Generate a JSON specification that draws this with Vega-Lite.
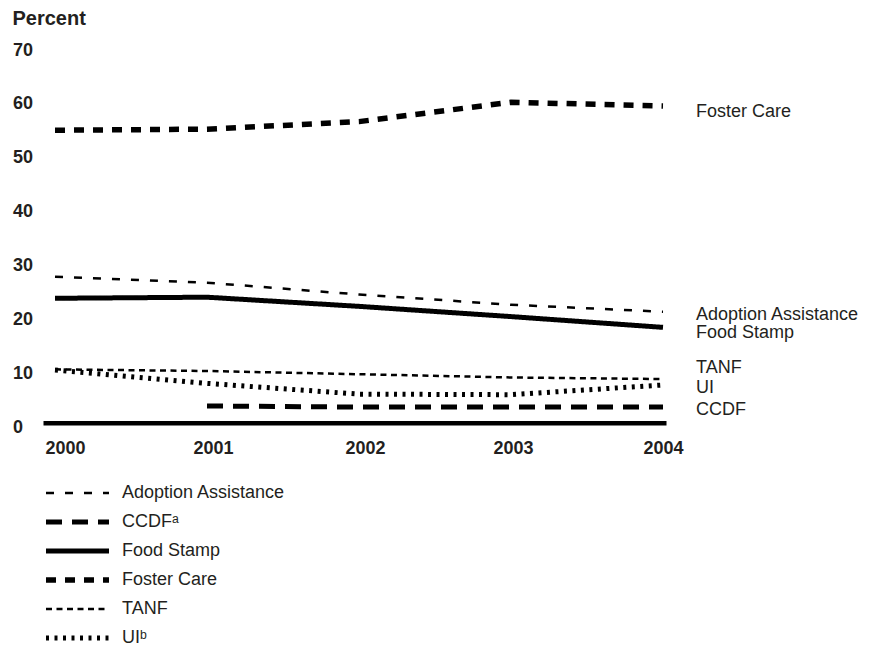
{
  "$schema": "https://vega.github.io/schema/vega-lite/v6.json",
  "width": 623,
  "height": 377,
  "autosize": {"type": "none"},
  "padding": {"left": 43, "top": 50, "right": 205, "bottom": 223},
  "background": "white",
  "config": {
    "view": {"stroke": null},
    "font": "Liberation Sans",
    "text": {"font": "Liberation Sans"}
  },
  "data": {
    "values": [
      {"series": "Foster Care", "year": 2000, "value": 55.1},
      {"series": "Foster Care", "year": 2001, "value": 55.3},
      {"series": "Foster Care", "year": 2002, "value": 56.7},
      {"series": "Foster Care", "year": 2003, "value": 60.3},
      {"series": "Foster Care", "year": 2004, "value": 59.6},
      {"series": "Adoption Assistance", "year": 2000, "value": 27.9},
      {"series": "Adoption Assistance", "year": 2001, "value": 26.8},
      {"series": "Adoption Assistance", "year": 2002, "value": 24.6},
      {"series": "Adoption Assistance", "year": 2003, "value": 22.7},
      {"series": "Adoption Assistance", "year": 2004, "value": 21.4},
      {"series": "Food Stamp", "year": 2000, "value": 23.9},
      {"series": "Food Stamp", "year": 2001, "value": 24.1},
      {"series": "Food Stamp", "year": 2002, "value": 22.4},
      {"series": "Food Stamp", "year": 2003, "value": 20.5},
      {"series": "Food Stamp", "year": 2004, "value": 18.5},
      {"series": "TANF", "year": 2000, "value": 10.7},
      {"series": "TANF", "year": 2001, "value": 10.4},
      {"series": "TANF", "year": 2002, "value": 9.8},
      {"series": "TANF", "year": 2003, "value": 9.2},
      {"series": "TANF", "year": 2004, "value": 8.9},
      {"series": "UI", "year": 2000, "value": 10.6},
      {"series": "UI", "year": 2001, "value": 8.1},
      {"series": "UI", "year": 2002, "value": 6.1},
      {"series": "UI", "year": 2003, "value": 6.0},
      {"series": "UI", "year": 2004, "value": 7.8},
      {"series": "CCDF", "year": 2001, "value": 3.9},
      {"series": "CCDF", "year": 2002, "value": 3.7},
      {"series": "CCDF", "year": 2003, "value": 3.7},
      {"series": "CCDF", "year": 2004, "value": 3.7}
    ]
  },
  "encoding": {
    "x": {
      "field": "year",
      "type": "quantitative",
      "scale": {"domain": [1999.921, 2004.0197], "nice": false, "zero": false},
      "axis": {
        "title": null,
        "values": [2000, 2001, 2002, 2003, 2004],
        "format": "d",
        "orient": "bottom",
        "offset": -4.3,
        "domain": true,
        "domainColor": "black",
        "domainWidth": 4.5,
        "ticks": false,
        "grid": false,
        "labelFlush": false,
        "labelOverlap": false,
        "labelBound": false,
        "labelFont": "Liberation Sans",
        "labelFontSize": 18,
        "labelFontWeight": "bold",
        "labelColor": "#231f20",
        "labelBaseline": "alphabetic",
        "labelPadding": 30.5,
        "labelOffset": {
          "condition": [
            {"test": "datum.value == 2000", "value": 10},
            {"test": "datum.value == 2001", "value": 6},
            {"test": "datum.value == 2002", "value": 6},
            {"test": "datum.value == 2003", "value": 2}
          ],
          "value": 0
        }
      }
    },
    "y": {
      "field": "value",
      "type": "quantitative",
      "scale": {"domain": [0, 70], "nice": false},
      "axis": {
        "title": "Percent",
        "titleAngle": 0,
        "titleAlign": "left",
        "titleBaseline": "alphabetic",
        "titleX": -31,
        "titleY": -25.5,
        "titleFont": "Liberation Sans",
        "titleFontSize": 20,
        "titleFontWeight": "bold",
        "titleColor": "#231f20",
        "values": [0, 10, 20, 30, 40, 50, 60, 70],
        "domain": false,
        "ticks": false,
        "grid": false,
        "labelAlign": "left",
        "labelBaseline": "middle",
        "labelPadding": 30.5,
        "labelFont": "Liberation Sans",
        "labelFontSize": 18,
        "labelFontWeight": "bold",
        "labelColor": "#231f20"
      }
    }
  },
  "layer": [
    {
      "mark": {"type": "line", "color": "black", "strokeCap": "butt"},
      "encoding": {
        "detail": {"field": "series"},
        "strokeDash": {
          "field": "series",
          "type": "nominal",
          "scale": {
            "domain": ["Adoption Assistance", "CCDF", "Food Stamp", "Foster Care", "TANF", "UI"],
            "range": [[8, 11], [16, 10], [1, 0], [10, 9], [6, 4.5], [3, 5.5]]
          },
          "legend": {
            "title": null,
            "orient": "none",
            "legendX": 0,
            "legendY": 433,
            "padding": 0,
            "symbolType": "stroke",
            "symbolSize": 3969,
            "symbolStrokeColor": "black",
            "labelFont": "Liberation Sans",
            "labelFontSize": 18,
            "labelColor": "#231f20",
            "labelOffset": 10,
            "labelLimit": 400,
            "clipHeight": 20,
            "rowPadding": 9,
            "labelExpr": "datum.label == 'CCDF' ? 'CCDFᵃ' : datum.label == 'UI' ? 'UIᵇ' : datum.label"
          }
        },
        "strokeWidth": {
          "field": "series",
          "type": "nominal",
          "scale": {
            "type": "ordinal",
            "domain": ["Adoption Assistance", "CCDF", "Food Stamp", "Foster Care", "TANF", "UI"],
            "range": [2.5, 5, 5, 5.5, 2.5, 5]
          },
          "legend": {"title": null}
        }
      }
    },
    {
      "transform": [{"filter": "datum.year == 2004 && (datum.series == 'Foster Care' || datum.series == 'Food Stamp')"}],
      "mark": {"type": "text", "align": "left", "baseline": "middle", "dx": 33, "dy": 6, "fontSize": 18, "font": "Liberation Sans", "color": "#231f20"},
      "encoding": {"text": {"field": "series"}}
    },
    {
      "transform": [{"filter": "datum.year == 2004 && datum.series == 'TANF'"}],
      "mark": {"type": "text", "align": "left", "baseline": "middle", "dx": 33, "dy": -11, "fontSize": 18, "font": "Liberation Sans", "color": "#231f20"},
      "encoding": {"text": {"field": "series"}}
    },
    {
      "transform": [{"filter": "datum.year == 2004 && (datum.series == 'Adoption Assistance' || datum.series == 'UI' || datum.series == 'CCDF')"}],
      "mark": {"type": "text", "align": "left", "baseline": "middle", "dx": 33, "dy": 3, "fontSize": 18, "font": "Liberation Sans", "color": "#231f20"},
      "encoding": {"text": {"field": "series"}}
    }
  ]
}
